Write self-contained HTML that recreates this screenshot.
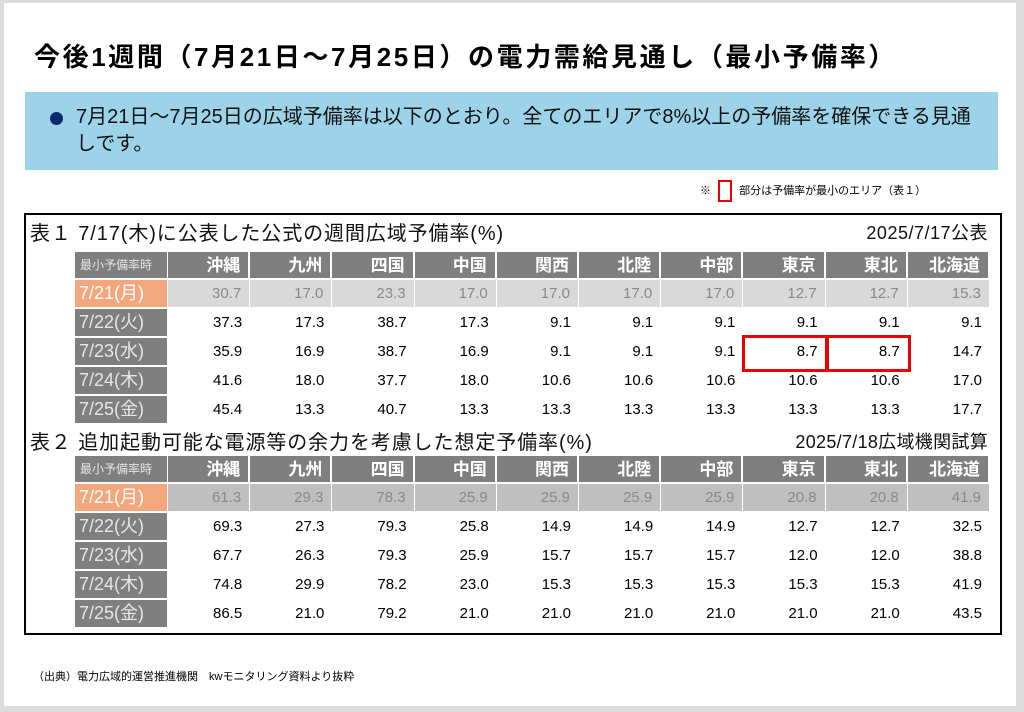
<!DOCTYPE html>
<html><head><meta charset="utf-8">
<style>
body{margin:0;width:1024px;height:712px;background:#dcdcdc;font-family:"Liberation Sans","Noto Sans CJK JP",sans-serif;position:relative;overflow:hidden}
.abs{position:absolute}
#card{left:4px;top:3px;width:1012px;height:703px;background:#fff}
.cell{position:absolute;box-sizing:border-box;text-align:right;padding-right:8px;font-size:15px;line-height:27px;color:#000}
.hd{background:#7f7f7f;color:#fff;font-weight:bold;font-size:17px}
.lab{background:#7f7f7f;color:#e6e6e6;text-align:left;padding-left:4px;font-size:18px}
</style></head><body>
<div id="card" class="abs"></div>
<div class="abs" style="left:34px;top:37px;font-size:26px;font-weight:bold;letter-spacing:2.6px;color:#000;white-space:nowrap">今後1週間（7月21日～7月25日）の電力需給見通し（最小予備率）</div>
<div class="abs" style="left:25px;top:92px;width:973px;height:78px;background:#9dd3e8"></div>
<div class="abs" style="left:50px;top:112px;width:13px;height:13px;border-radius:50%;background:#0b2a6b"></div>
<div class="abs" style="left:76px;top:104px;width:900px;font-size:20px;line-height:27px;color:#111">7月21日～7月25日の広域予備率は以下のとおり。全てのエリアで8%以上の予備率を確保できる見通しです。</div>
<div class="abs" style="left:700px;top:180px;font-size:11px;color:#000">※ <span style="display:inline-block;width:10px;height:18px;border:2px solid #e00;vertical-align:middle;margin:0 4px"></span> 部分は予備率が最小のエリア（表１）</div>
<div class="abs" style="left:24px;top:213px;width:974px;height:418px;border:2.5px solid #000"></div>
<div class="abs" style="left:30px;top:217px;font-size:20px;letter-spacing:0.9px;color:#111;white-space:nowrap">表１ 7/17(木)に公表した公式の週間広域予備率(%)</div>
<div class="abs" style="right:36px;top:219px;font-size:18px;letter-spacing:0.5px;color:#111">2025/7/17公表</div>
<div class="abs" style="left:30px;top:426px;font-size:20px;letter-spacing:0.9px;color:#111;white-space:nowrap">表２ 追加起動可能な電源等の余力を考慮した想定予備率(%)</div>
<div class="abs" style="right:36px;top:428px;font-size:18px;letter-spacing:0.3px;color:#111">2025/7/18広域機関試算</div>
<div class="abs" style="left:33px;top:668px;font-size:11px;color:#000">（出典）電力広域的運営推進機関　kwモニタリング資料より抜粋</div>
<div id="tables"></div>
<script>
const areas=["沖縄","九州","四国","中国","関西","北陸","中部","東京","東北","北海道"];
const dates=["7/21(月)","7/22(火)","7/23(水)","7/24(木)","7/25(金)"];
const table1=[
["30.7","17.0","23.3","17.0","17.0","17.0","17.0","12.7","12.7","15.3"],
["37.3","17.3","38.7","17.3","9.1","9.1","9.1","9.1","9.1","9.1"],
["35.9","16.9","38.7","16.9","9.1","9.1","9.1","8.7","8.7","14.7"],
["41.6","18.0","37.7","18.0","10.6","10.6","10.6","10.6","10.6","17.0"],
["45.4","13.3","40.7","13.3","13.3","13.3","13.3","13.3","13.3","17.7"]];
const table2=[
["61.3","29.3","78.3","25.9","25.9","25.9","25.9","20.8","20.8","41.9"],
["69.3","27.3","79.3","25.8","14.9","14.9","14.9","12.7","12.7","32.5"],
["67.7","26.3","79.3","25.9","15.7","15.7","15.7","12.0","12.0","38.8"],
["74.8","29.9","78.2","23.0","15.3","15.3","15.3","15.3","15.3","41.9"],
["86.5","21.0","79.2","21.0","21.0","21.0","21.0","21.0","21.0","43.5"]];
const highlight1=[[2,7],[2,8]];
const root=document.getElementById('tables');
function mk(cls,x,y,w,h,txt,style){const d=document.createElement('div');d.className='cell '+cls;d.style.left=x+'px';d.style.top=y+'px';d.style.width=w+'px';d.style.height=h+'px';if(style)d.style.cssText+=style;d.textContent=txt;root.appendChild(d);return d;}
function build(data,top,band,prefix,hl){
  const x0=75,lw=92,cw=82.2,rh=29,hh=26;
  let d=mk('hd',x0,top,lw,hh,'最小予備率時','text-align:left;padding-left:5px;font-size:12px;font-weight:normal;color:#e6e6e6');
  
  
  areas.forEach((a,i)=>{
    const c=mk('hd',x0+lw+1+i*cw,top,cw-2,hh,a);
    
    
  });
  dates.forEach((dt,r)=>{
    const y=top+hh+2+r*rh;
    const l=mk('lab',x0,y,lw,rh-2,dt,r===0?'background:#f4a77c;color:#fff':'');
    
    
    data[r].forEach((v,i)=>{
      const st=r===0?'background:'+band+';color:#8a8a8a;border-right:1px solid #fff':'';
      const c=mk('',x0+lw+1+i*cw,y,cw,rh-2,v,st);
      
      
    });
  });
  (hl||[]).forEach(([r,i])=>{
    const b=document.createElement('div');b.className='abs';
    b.style.cssText='left:'+(x0+lw+1+i*cw-1)+'px;top:'+(top+hh+2+r*rh-3)+'px;width:'+(cw-2)+'px;height:'+(rh+2)+'px;border:3px solid #e00';
    
    
    root.appendChild(b);
  });
}
build(table1,252,'#d9d9d9','table1',highlight1);
build(table2,456,'#bfbfbf','table2',[]);
</script>
</body></html>
